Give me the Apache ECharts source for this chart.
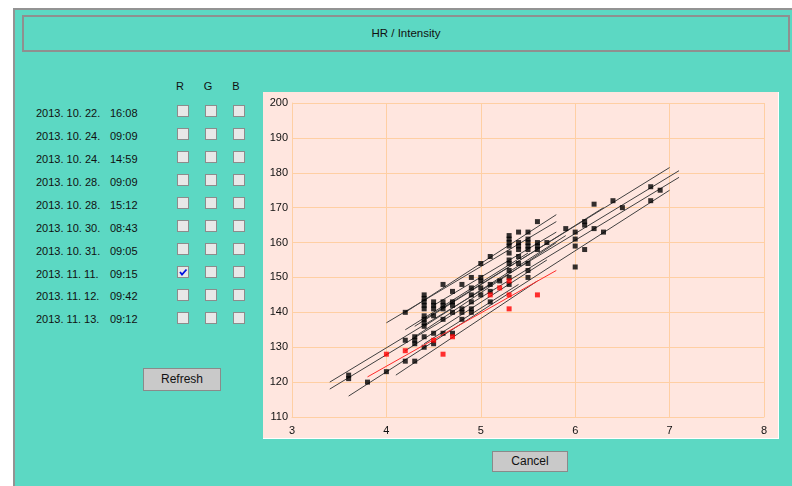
<!DOCTYPE html>
<html>
<head>
<meta charset="utf-8">
<script src="https://cdn.jsdelivr.net/npm/echarts@6/dist/echarts.min.js"></script>
<style>
html, body { margin: 0; padding: 0; background: #fff; width: 792px; height: 486px; overflow: hidden; }
body { position: relative; font-family: "Liberation Sans", Arial, sans-serif; color: #111; }
.frame { position: absolute; left: 13px; top: 8px; width: 800px; height: 500px; background: #5cd8c3; border: 2px solid #939393; }
.title { position: absolute; left: 22px; top: 15px; width: 764px; height: 33px; border: 2px solid #8f8f8f; font-size: 11.5px; line-height: 33px; text-align: center; }
.lbl { position: absolute; font-size: 11px; line-height: 13px; white-space: pre; }
.hdr { position: absolute; font-size: 11px; line-height: 13px; width: 20px; text-align: center; }
.cb { position: absolute; width: 10px; height: 10px; background: #e8e8e8; border: 1px solid #8c8c8c; }
.btn { position: absolute; background: #c9c9c9; border: 1px solid #8a8a8a; font-size: 12px; text-align: center; box-sizing: border-box; }
#panel { position: absolute; left: 263px; top: 92px; width: 516px; height: 347px; background: #ffe6df; box-sizing: border-box; border-right: 1px solid #fff; border-bottom: 1px solid #fff; }
#chart { width: 515px; height: 346px; }
</style>
</head>
<body>
<div class="frame"></div>
<div class="title">HR / Intensity</div>
<div id="form"></div>
<div class="btn" style="left:143px;top:368px;width:78px;height:23px;line-height:21px;">Refresh</div>
<div class="btn" style="left:492px;top:451px;width:76px;height:21px;line-height:19px;">Cancel</div>
<div id="panel"><div id="chart"></div></div>
<script>
// sessions in the list
var sessionDates = ['2013. 10. 22.', '2013. 10. 24.', '2013. 10. 24.', '2013. 10. 28.', '2013. 10. 28.',
                    '2013. 10. 30.', '2013. 10. 31.', '2013. 11. 11.', '2013. 11. 12.', '2013. 11. 13.'];
var sessionTimes = ['16:08', '09:09', '14:59', '09:09', '15:12', '08:43', '09:05', '09:15', '09:42', '09:12'];
var channels = ['R', 'G', 'B'];
var checkedRow = 7;   // R ticked

// black measurements: intensity -> list of HR
var blackX = [3.6, 3.8, 4.0, 4.2, 4.3, 4.4, 4.5, 4.6, 4.7, 4.8, 4.9, 5.0, 5.1, 5.2, 5.3, 5.4, 5.5, 5.6, 5.7, 5.9, 6.0, 6.1, 6.2, 6.3, 6.4, 6.5, 6.8, 6.9];
var blackHR = [
	[122, 121], [120], [123], [140, 132, 126], [133, 132, 131, 126],
	[145, 144, 143, 142, 141, 139, 138, 137, 136, 133, 130], [143, 142, 141, 139, 134, 131],
	[148, 143, 142, 141, 138, 134], [146, 143, 142, 140, 134], [148, 141, 140, 138],
	[150, 147, 145, 143, 141, 140], [154, 150, 149, 147, 145], [156, 148, 146, 143], [149],
	[162, 161, 160, 159, 157, 155, 154, 152, 150, 148], [163, 160, 159, 158, 156, 154],
	[163, 161, 160, 159, 158, 154, 152, 150], [166, 160, 159, 158], [160], [164],
	[163, 161, 159, 153], [166, 165, 158], [171, 164], [163], [172], [170], [176, 172], [175]
];
// red (selected session) measurements
var redX = [4.0, 4.2, 4.5, 4.6, 4.7, 5.1, 5.2, 5.3, 5.3, 5.3, 5.6];
var redHR = [128, 129, 132, 128, 133, 145, 147, 149, 145, 141, 145];
// fitted lines: [x1, y1, x2, y2]
var fitLines = [
	[3.4, 120, 7.1, 180.6], [3.4, 118, 7.1, 178.7], [3.6, 116, 7.0, 175], [4.4, 138, 7.0, 181.5],
	[4.2, 140, 5.8, 168], [4.0, 137, 5.8, 166], [4.1, 122, 5.6, 149], [4.2, 129, 5.7, 155],
	[4.3, 133, 5.8, 160], [4.2, 135, 5.5, 157], [4.4, 136, 5.9, 162], [4.5, 142, 5.8, 163],
	[4.3, 136, 6.3, 170], [4.4, 131, 5.4, 148]
];
var redLine = [3.8, 121.5, 5.8, 152];
var xTicks = [3, 4, 5, 6, 7, 8];
var yTicks = [110, 120, 130, 140, 150, 160, 170, 180, 190, 200];

// form part
var form = document.getElementById('form'), html = '';
var colX = [183, 211, 239];
for(var c = 0; c < 3; c++){
	html += "<div class='hdr' style='left:" + (colX[c] - 13) + "px;top:80px;'>" + channels[c] + "</div>";
}
for(var i = 0; i < sessionDates.length; i++){
	var ty = 113.3 + 22.96 * i - 6.5, cy = 111 + 23 * i;
	html += "<div class='lbl' style='left:36px;top:" + ty + "px;'>" + sessionDates[i] + "</div>";
	html += "<div class='lbl' style='left:110px;top:" + ty + "px;'>" + sessionTimes[i] + "</div>";
	for(var c = 0; c < 3; c++){
		html += "<div class='cb' style='left:" + (colX[c] - 6) + "px;top:" + (cy - 6) + "px;'>";
		if(i == checkedRow && c == 0){
			html += "<svg width='10' height='10' style='position:absolute;left:0;top:0'><polyline points='2,5 4,7.5 8.5,2.5' fill='none' stroke='#0010e0' stroke-width='1.8'/></svg>";
		}
		html += "</div>";
	}
}
form.innerHTML = html;

// chart
var blackPts = [];
for(var i = 0; i < blackX.length; i++){
	for(var j = 0; j < blackHR[i].length; j++){
		blackPts.push([blackX[i], blackHR[i][j]]);
	}
}
var redPts = redX.map(function(x, i){ return [x, redHR[i]]; });

var series = [];
for(var i = 0; i < fitLines.length; i++){
	var l = fitLines[i];
	series.push({
		type: 'line', data: [[l[0], l[1]], [l[2], l[3]]], showSymbol: false, symbol: 'none',
		lineStyle: {color: '#404040', width: 1}, silent: true, z: 2
	});
}
series.push({
	type: 'scatter', data: blackPts, symbol: 'rect', symbolSize: 5,
	itemStyle: {color: '#000'}, z: 3
});
series.push({
	type: 'line', data: [[redLine[0], redLine[1]], [redLine[2], redLine[3]]], symbol: 'none',
	lineStyle: {color: '#ff2a2a', width: 1}, z: 4
});
series.push({
	type: 'scatter', data: redPts, symbol: 'rect', symbolSize: 5,
	itemStyle: {color: '#ff0000'}, z: 5
});

var gridColor = '#ffcfa3';
var myChart = echarts.init(document.getElementById('chart'));
myChart.setOption({
	animation: false,
	grid: {left: 29, top: 11, right: 14, bottom: 21},
	xAxis: {
		type: 'value', min: xTicks[0], max: xTicks[xTicks.length - 1], interval: 1,
		axisLine: {show: true, lineStyle: {color: gridColor}},
		axisTick: {show: false},
		axisLabel: {color: '#111', fontSize: 11, margin: 8, fontFamily: 'Liberation Sans'},
		splitLine: {show: true, lineStyle: {color: gridColor, width: 1}}
	},
	yAxis: {
		type: 'value', min: yTicks[0], max: yTicks[yTicks.length - 1], interval: 10,
		axisLine: {show: true, lineStyle: {color: gridColor}},
		axisTick: {show: false},
		axisLabel: {color: '#111', fontSize: 11, margin: 4, fontFamily: 'Liberation Sans'},
		splitLine: {show: true, lineStyle: {color: gridColor, width: 1}}
	},
	series: series
});
</script>
</body>
</html>
